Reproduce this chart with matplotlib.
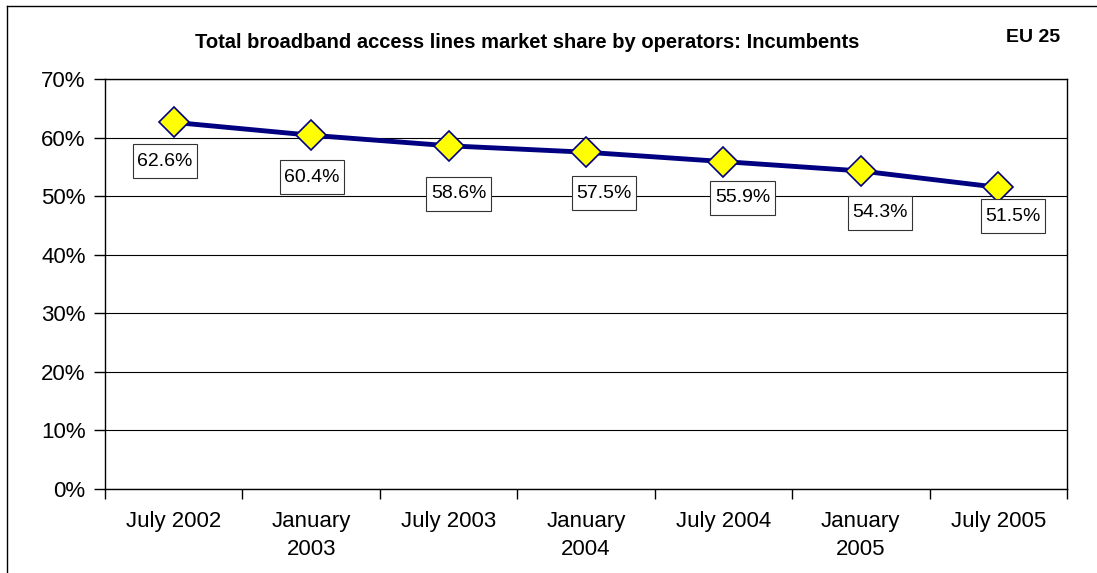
import matplotlib
matplotlib.use("Agg")
import matplotlib.pyplot as plt
from matplotlib.lines import Line2D
from matplotlib.path import Path

categories = ["July 2002", "January\n2003", "July 2003", "January\n2004",
              "July 2004", "January\n2005", "July 2005"]
share = [62.6, 60.4, 58.6, 57.5, 55.9, 54.3, 51.5]
y_ticks = [0, 10, 20, 30, 40, 50, 60, 70]
title = "Total broadband access lines market share by operators: Incumbents"
region = "EU 25"

# label offsets in pixels (dx, dy down)
label_offsets = [(-9, 39), (1, 42), (10, 48), (18, 41), (19, 36), (19, 42), (15, 29)]

plt.rcParams['font.family'] = ['Liberation Sans', 'DejaVu Sans']

W, H = 1097, 573
fig = plt.figure(figsize=(W / 100, H / 100), dpi=100)
ax = fig.add_axes([105 / W, 1 - 489 / H, (1067 - 105) / W, (489 - 79) / H])

# outer chart border (left & top visible)
fig.add_artist(Line2D([7 / W, 7 / W], [1 - 6 / H, -0.1], transform=fig.transFigure,
                      color='black', lw=1))
fig.add_artist(Line2D([7 / W, 1.1], [1 - 6 / H, 1 - 6 / H], transform=fig.transFigure,
                      color='black', lw=1))


def label_box(x0, y0, width, height, mutation_size):
    px = 4.5
    total_h = 34.0
    cy = y0 + height / 2
    xa, xb = x0 - px, x0 + width + px
    ya, yb = cy - total_h / 2, cy + total_h / 2
    return Path([(xa, ya), (xb, ya), (xb, yb), (xa, yb), (xa, ya)], closed=True)


x = [i + 0.5 for i in range(len(share))]
ax.plot(x, share, color='#000080', lw=3.5, marker='D', markersize=15,
        markerfacecolor='#FFFF00', markeredgecolor='#000080', markeredgewidth=1.2,
        zorder=5, clip_on=False)

for xi, v, (dx, dy) in zip(x, share, label_offsets):
    ax.annotate(f"{v:.1f}%", (xi, v), xytext=(dx, -dy), textcoords='offset pixels',
                ha='center', va='center', fontsize=14,
                bbox=dict(boxstyle=label_box, fc='white', ec='#333333', lw=0.8),
                zorder=6)

ax.set_xlim(0, 7)
ax.set_ylim(0, 70)
ax.set_yticks(y_ticks)
ax.set_yticklabels([f"{t}%" for t in y_ticks], fontsize=16)
ax.yaxis.grid(True, color='black', lw=0.8)
ax.set_axisbelow(True)

ax.set_xticks(range(8))
ax.set_xticklabels([])
ax.set_xticks(x, minor=True)
ax.set_xticklabels(categories, minor=True, fontsize=16, linespacing=1.4)
ax.tick_params(axis='x', which='major', direction='out', length=7, width=1)
ax.tick_params(axis='x', which='minor', length=0, pad=16)
ax.tick_params(axis='y', direction='out', length=8, width=1, pad=6)

for s in ax.spines.values():
    s.set_color('black')
    s.set_linewidth(1)

fig.text(527 / W, 1 - 42 / H, title, ha='center', va='center', fontsize=14.5,
         fontweight='bold')
fig.text(1060 / W, 1 - 37 / H, region, ha='right', va='center', fontsize=14,
         fontweight='bold')

fig.savefig("out.png", dpi=100)
